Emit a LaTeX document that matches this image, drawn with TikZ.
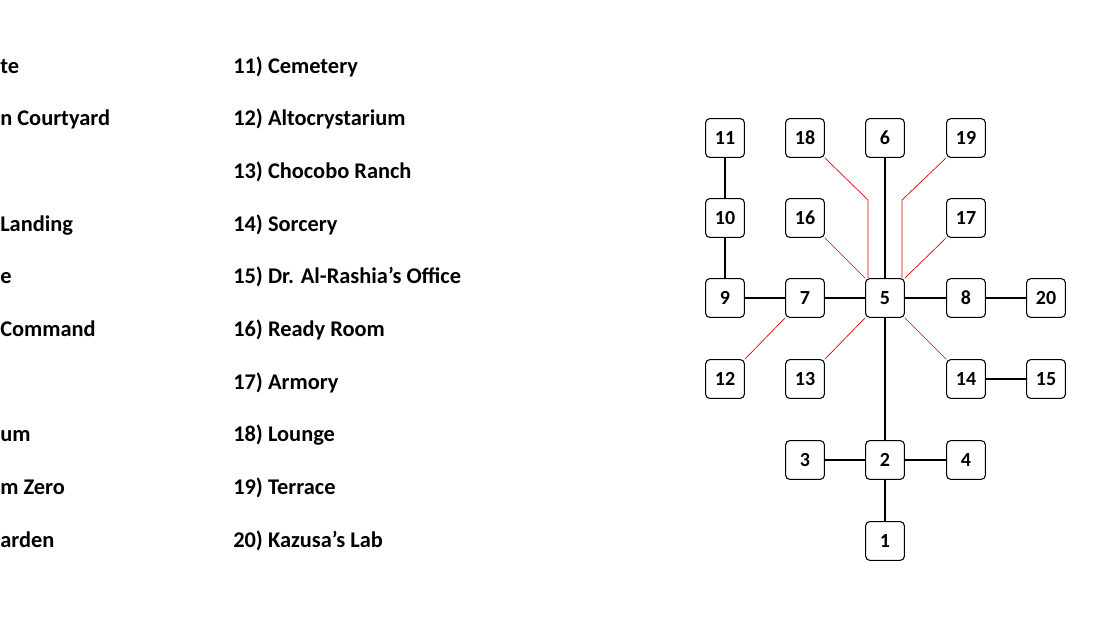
\documentclass[tikz,border=0pt]{standalone}
\usepackage{fontspec}
\setmainfont{Carlito}
\begin{document}
\begin{tikzpicture}[x=0.75pt,y=-0.75pt,
  room/.style={draw,line width=0.8pt,rounded corners=3pt,minimum size=29pt,inner sep=0pt,font=\bfseries\fontsize{15}{17}\selectfont},
  lbl/.style={anchor=west,inner sep=0pt,font=\bfseries\fontsize{16.8}{19}\selectfont},
  red/.style={draw=red!85!black,line width=0.5pt},
  blk/.style={draw,line width=0.8pt}]
\useasboundingbox (0,0) rectangle (1110,624);
\foreach \t [count=\i] in {te,n Courtyard,,Landing,e,Command,,um,m Zero,arden}
  \node[lbl] (l\i) at (0,{68+52.7*(\i-1)}) {\strut\t};
\foreach \t [count=\i] in {11) Cemetery,12) Altocrystarium,13) Chocobo Ranch,14) Sorcery,15) Dr. Al-Rashia\char"27 s Office,16) Ready Room,17) Armory,18) Lounge,19) Terrace,20) Kazusa\char"27 s Lab}
  \node[lbl] (r\i) at (233,{68+52.7*(\i-1)}) {\strut\t};
\node[room] (n11) at (725,138) {11};
\node[room] (n18) at (805,138) {18};
\node[room] (n6) at (885,138) {6};
\node[room] (n19) at (966,138) {19};
\node[room] (n10) at (725,218) {10};
\node[room] (n16) at (805,218) {16};
\node[room] (n17) at (966,218) {17};
\node[room] (n9) at (725,298) {9};
\node[room] (n7) at (805,298) {7};
\node[room] (n5) at (885,298) {5};
\node[room] (n8) at (966,298) {8};
\node[room] (n20) at (1046,298) {20};
\node[room] (n12) at (725,379) {12};
\node[room] (n13) at (805,379) {13};
\node[room] (n14) at (966,379) {14};
\node[room] (n15) at (1046,379) {15};
\node[room] (n3) at (805,460) {3};
\node[room] (n2) at (885,460) {2};
\node[room] (n4) at (966,460) {4};
\node[room] (n1) at (885,541) {1};
\coordinate (k18) at (868,200);
\coordinate (k19) at (902,200);
\draw[blk] (n11)--(n10) (n10)--(n9) (n9)--(n7) (n7)--(n5) (n5)--(n8) (n8)--(n20)
  (n6)--(n5) (n5)--(n2) (n14)--(n15) (n3)--(n2) (n2)--(n4) (n2)--(n1);
\draw[red] (n18.south east)--(k18)--(k18|-n5.north);
\draw[red] (n19.south west)--(k19)--(k19|-n5.north);
\draw[red] (n16.south east)--(n5.north west) (n17.south west)--(n5.north east)
  (n7.south west)--(n12.north east) (n5.south west)--(n13.north east) (n5.south east)--(n14.north west);
\end{tikzpicture}
\end{document}
